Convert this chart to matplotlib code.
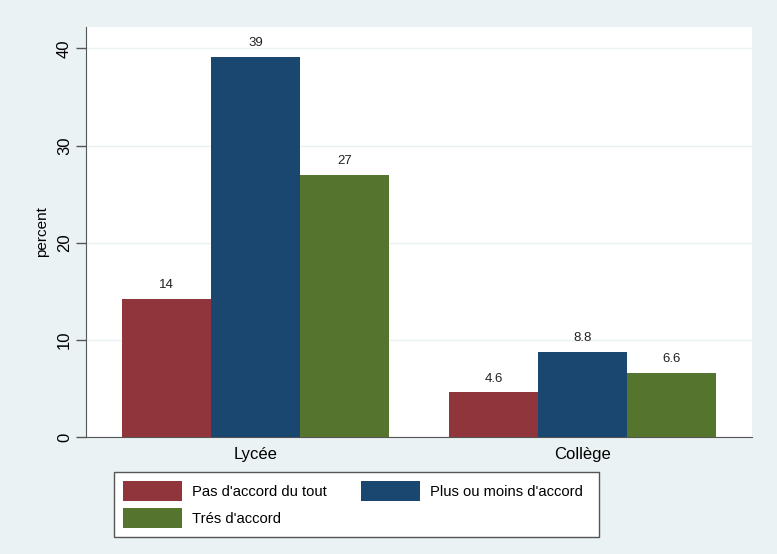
import matplotlib.pyplot as plt
import numpy as np
from matplotlib.patches import Rectangle

plt.rcParams['font.family'] = ['Liberation Sans', 'DejaVu Sans']

groups = ['Lycée', 'Collège']
series = ["Pas d'accord du tout", "Plus ou moins d'accord", "Trés d'accord"]
pas_accord = [14.2, 4.6]
plus_moins = [39.1, 8.8]
tres_accord = [27.0, 6.6]
colors = ['#90353b', '#1a476f', '#55752f']

bg = '#eaf2f3'
fig = plt.figure(figsize=(7.77, 5.54), dpi=100, facecolor=bg)
ax = fig.add_axes([86/777, 1-437/554, 666/777, 410/554])
ax.set_facecolor('white')

x = np.arange(len(groups))
w = 0.272
handles = []
for i, (vals, c, lab) in enumerate(zip([pas_accord, plus_moins, tres_accord], colors, series)):
    bars = ax.bar(x + (i-1)*w, vals, width=w, color=c, label=lab, zorder=3)
    handles.append(bars)
    for b, v in zip(bars, vals):
        ax.text(b.get_x() + b.get_width()/2, v + 0.8, '%.2g' % v,
                ha='center', va='bottom', fontsize=9.5, color='#222222')

ax.set_xlim(-0.518, 1.518)
ax.set_ylim(0, 42.2)
ax.set_yticks([0, 10, 20, 30, 40])
ax.grid(axis='y', color=bg, linewidth=1, zorder=0)
ax.set_xticks(x)
ax.set_xticklabels(groups, fontsize=12)
ax.tick_params(axis='x', length=0, pad=7)
ax.tick_params(axis='y', length=7, width=1, color='#555555', labelsize=12, pad=3)
for t in ax.get_yticklabels():
    t.set_rotation(90)
    t.set_va('center')
ax.set_ylabel('percent', fontsize=11, labelpad=6)
for s in ['top', 'right']:
    ax.spines[s].set_visible(False)
for s in ['left', 'bottom']:
    ax.spines[s].set_color('#555555')

# legend box drawn by hand, entries placed inside it
fig.patches.append(Rectangle((114/777, 1-537/554), 485/777, 65/554,
                             transform=fig.transFigure, facecolor='white',
                             edgecolor='#555555', linewidth=1, zorder=1))
fs = 10.6
leg = fig.legend([handles[0], handles[2], handles[1]],
                 [series[0], series[2], series[1]],
                 ncol=2, loc='upper left',
                 bbox_to_anchor=(114/777, 1-472/554),
                 fontsize=fs, handlelength=4.0, handleheight=1.72,
                 frameon=False, borderaxespad=0, labelspacing=0.45,
                 handletextpad=0.7, columnspacing=2.3, borderpad=0.62)

plt.savefig('out.png', dpi=100, facecolor=bg)
